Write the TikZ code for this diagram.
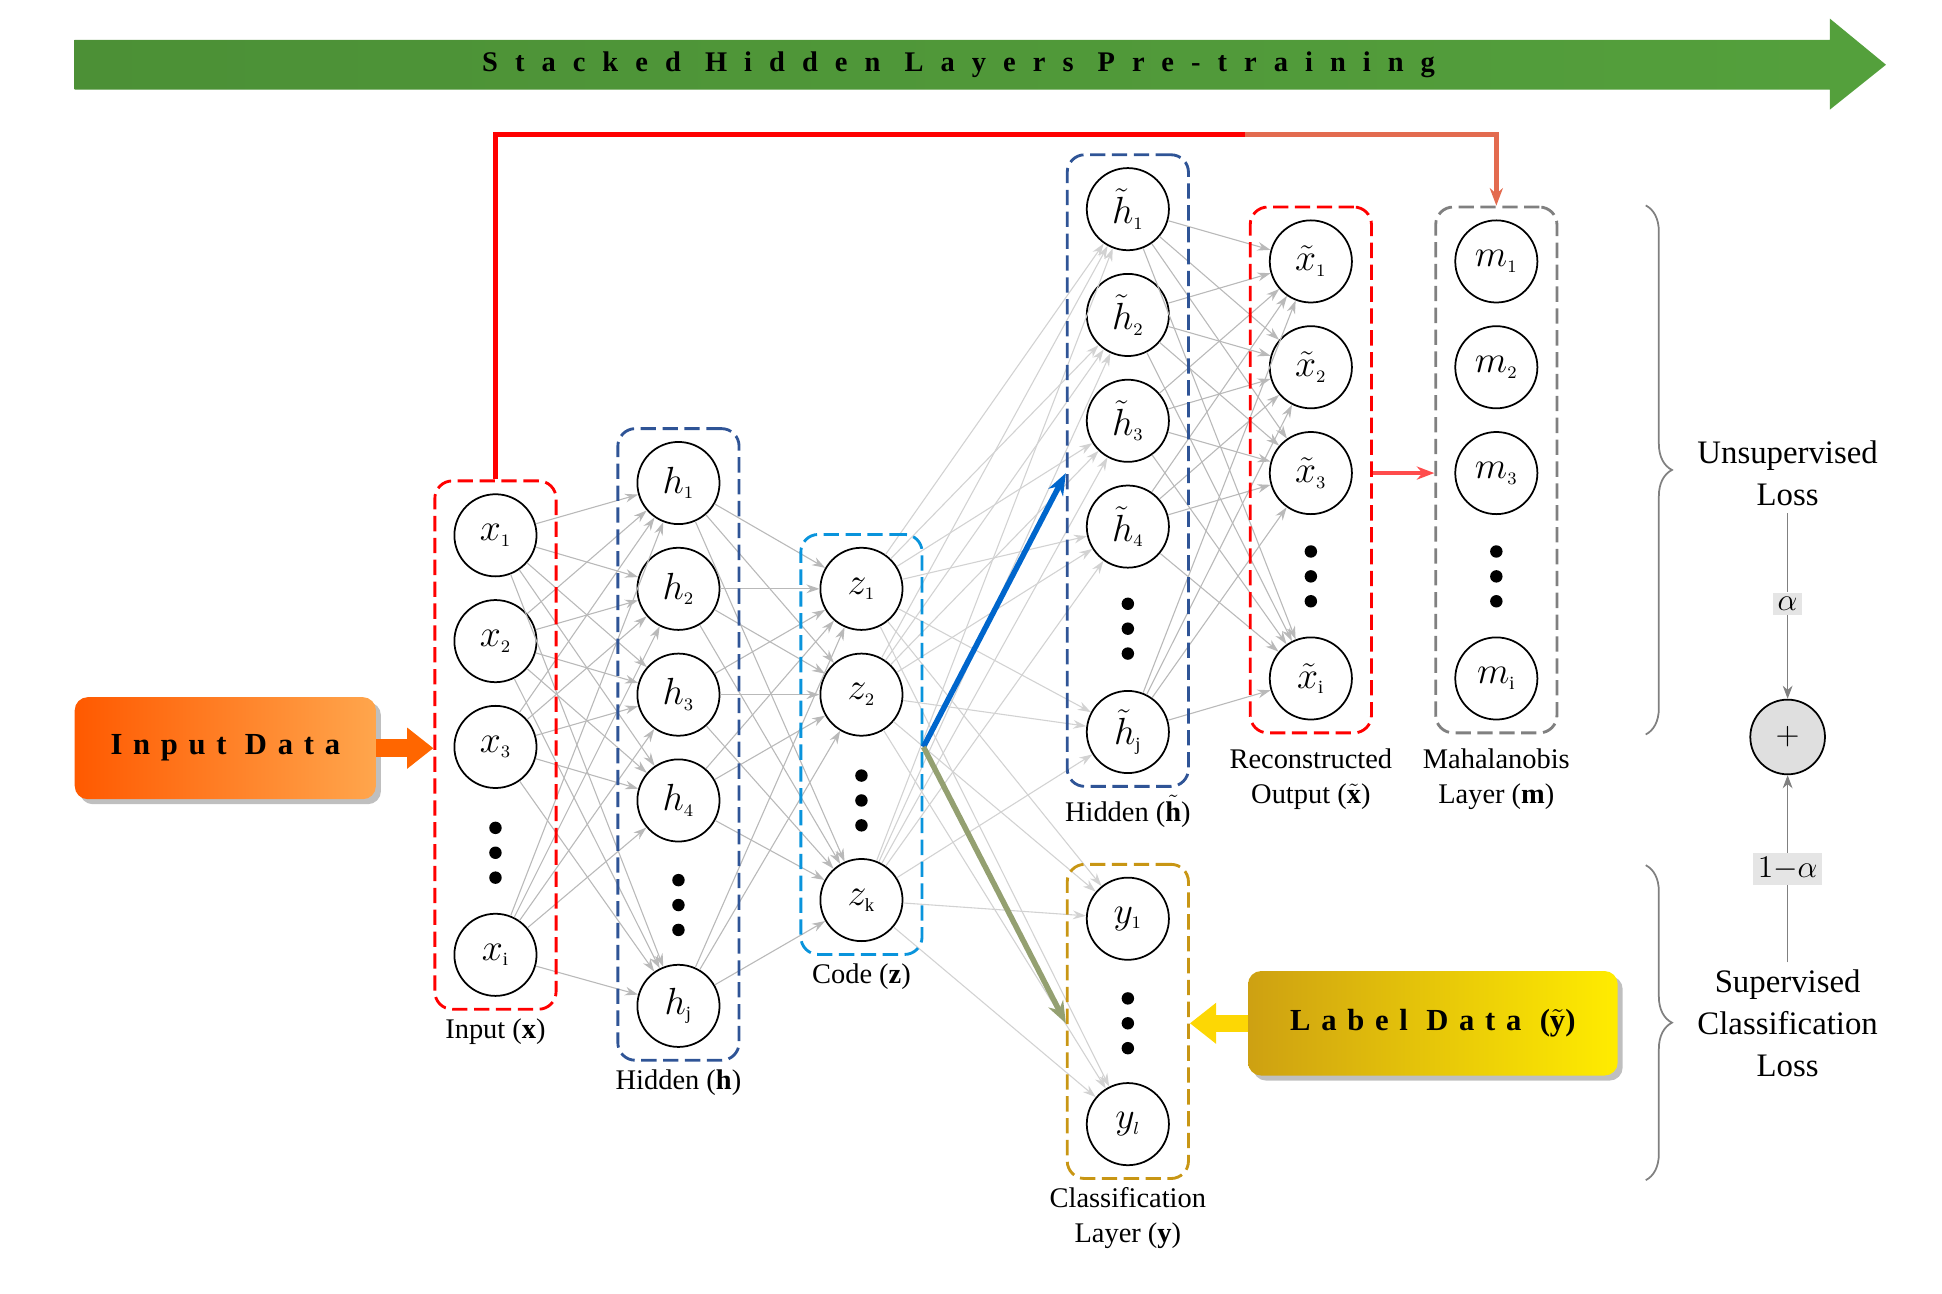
\documentclass[tikz,border=0pt]{standalone}
\usepackage{amsmath}
\usepackage{fontspec}
\setmainfont{Liberation Serif}
\usetikzlibrary{positioning, arrows.meta, fit, shadows, decorations.pathreplacing}

\definecolor{boxblue}{RGB}{47,84,150}
\definecolor{boxgold}{RGB}{200,150,20}
\definecolor{bannergreen}{RGB}{84,160,60}

\tikzset{
  neuron/.style={circle,draw,thick,minimum size=1.32cm,inner sep=0pt,font=\fontsize{17}{17}\selectfont,fill=white},
  conn/.style={-{Stealth[length=6pt,width=4pt]},gray!55,line width=0.5pt},
  layerbox/.style={draw,dash pattern=on 7pt off 3pt,line width=1.3pt,rounded corners=8pt,inner xsep=0.3cm,inner ysep=0.2cm},
  lbl/.style={font=\fontsize{13}{16}\selectfont,align=center},
  databox/.style={rounded corners=6pt,drop shadow,text=black,font=\fontsize{14}{14}\bfseries\addfontfeature{LetterSpace=35}\selectfont},
}
\newcommand{\dotcol}[2]{\foreach \dd in {-20,0,20} \fill (#1,#2+\dd) circle (0.1cm);}

\begin{document}
\begin{tikzpicture}[x=0.02cm,y=-0.02cm]
        \useasboundingbox (0,0) rectangle (1560,1039);
        % banner
        \shade[left color=bannergreen!90!black,right color=bannergreen]
          (60,32) -- (1470,32) -- (1470,15) -- (1515,52) -- (1470,88) -- (1470,72) -- (60,72) -- cycle;
        \node[font=\fontsize{13}{13}\bfseries\addfontfeature{LetterSpace=60}\selectfont] (banner) at (770,52) {Stacked Hidden Layers Pre-training};
        % layers
        \node[neuron](x1) at (398,430){$x_{\scriptscriptstyle 1}$};
        \node[neuron](x2) at (398,515){$x_{\scriptscriptstyle 2}$};
        \node[neuron](x3) at (398,600){$x_{\scriptscriptstyle 3}$};
        \node[neuron](xi) at (398,767){$x_{\scriptscriptstyle \mathrm{i}}$};
        \dotcol{398}{685}
        \node[neuron](h1) at (545,388){$h_{\scriptscriptstyle 1}$};
        \node[neuron](h2) at (545,473){$h_{\scriptscriptstyle 2}$};
        \node[neuron](h3) at (545,558){$h_{\scriptscriptstyle 3}$};
        \node[neuron](h4) at (545,643){$h_{\scriptscriptstyle 4}$};
        \node[neuron](hj) at (545,808){$h_{\scriptscriptstyle \mathrm{j}}$};
        \dotcol{545}{727}
        \node[neuron](z1) at (692,473){$z_{\scriptscriptstyle 1}$};
        \node[neuron](z2) at (692,558){$z_{\scriptscriptstyle 2}$};
        \node[neuron](zk) at (692,723){$z_{\scriptscriptstyle \mathrm{k}}$};
        \dotcol{692}{643}
        \node[neuron](t1) at (906,168){$\tilde h_{\scriptscriptstyle 1}$};
        \node[neuron](t2) at (906,253){$\tilde h_{\scriptscriptstyle 2}$};
        \node[neuron](t3) at (906,338){$\tilde h_{\scriptscriptstyle 3}$};
        \node[neuron](t4) at (906,423){$\tilde h_{\scriptscriptstyle 4}$};
        \node[neuron](tj) at (906,588){$\tilde h_{\scriptscriptstyle \mathrm{j}}$};
        \dotcol{906}{505}
        \node[neuron](r1) at (1053,210){$\tilde x_{\scriptscriptstyle 1}$};
        \node[neuron](r2) at (1053,295){$\tilde x_{\scriptscriptstyle 2}$};
        \node[neuron](r3) at (1053,380){$\tilde x_{\scriptscriptstyle 3}$};
        \node[neuron](ri) at (1053,545){$\tilde x_{\scriptscriptstyle \mathrm{i}}$};
        \dotcol{1053}{463}
        \node[neuron](m1) at (1202,210){$m_{\scriptscriptstyle 1}$};
        \node[neuron](m2) at (1202,295){$m_{\scriptscriptstyle 2}$};
        \node[neuron](m3) at (1202,380){$m_{\scriptscriptstyle 3}$};
        \node[neuron](mi) at (1202,545){$m_{\scriptscriptstyle \mathrm{i}}$};
        \dotcol{1202}{463}
        \node[neuron](y1) at (906,738){$y_{\scriptscriptstyle 1}$};
        \node[neuron](yl) at (906,903){$y_{\scriptscriptstyle l}$};
        \dotcol{906}{822}
        % connections
        \foreach \a in {x1,x2,x3,xi} \foreach \b in {h1,h2,h3,h4,hj} \draw[conn] (\a) -- (\b);
        \foreach \a in {h1,h2,h3,h4,hj} \foreach \b in {z1,z2,zk} \draw[conn] (\a) -- (\b);
        \foreach \a in {z1,z2,zk} \foreach \b in {t1,t2,t3,t4,tj,y1,yl} \draw[conn,gray!35] (\a) -- (\b);
        \foreach \a in {t1,t2,t3,t4,tj} \foreach \b in {r1,r2,r3,ri} \draw[conn] (\a) -- (\b);
        % boxes
        \node[layerbox,red,fit=(x1)(xi)](xbox){};
        \node[layerbox,boxblue,fit=(h1)(hj)](hbox){};
        \node[layerbox,cyan!80!blue,fit=(z1)(zk)](zbox){};
        \node[layerbox,boxblue,fit=(t1)(tj)](tbox){};
        \node[layerbox,red,fit=(r1)(ri)](rbox){};
        \node[layerbox,gray,fit=(m1)(mi)](mbox){};
        \node[layerbox,boxgold,fit=(y1)(yl)](ybox){};
        % labels
        \node[lbl,below=0pt of xbox](xl){Input ($\mathbf{x}$)};
        \node[lbl,below=0pt of hbox](hl){Hidden ($\mathbf{h}$)};
        \node[lbl,below=0pt of zbox](zl){Code ($\mathbf{z}$)};
        \node[lbl,below=0pt of tbox](tl){Hidden ($\tilde{\mathbf{h}}$)};
        \node[lbl,below=3pt of rbox](rl){Reconstructed\\Output ($\tilde{\mathbf{x}}$)};
        \node[lbl,below=3pt of mbox](ml){Mahalanobis\\Layer ($\mathbf{m}$)};
        \node[lbl,below=0pt of ybox](yll){Classification\\Layer ($\mathbf{y}$)};
        % data boxes
        \node[databox,left color=orange!70!red,right color=orange!70,minimum width=4.84cm,minimum height=1.64cm](indata) at (181,601){Input Data};
        \node[databox,left color=boxgold!90!yellow,right color=yellow!85!orange,minimum width=5.94cm,minimum height=1.68cm](labdata) at (1151,822){Label Data ($\tilde{\mathbf{y}}$)};
        \draw[-{Triangle[length=12pt,width=18pt]},line width=8pt,orange!80!red] (indata) -- (xbox.west |- indata);
        \draw[-{Triangle[length=12pt,width=18pt]},line width=8pt,yellow!75!orange] (labdata) -- (ybox.east |- labdata);
        % skip and flow arrows
        \draw[red,line width=2pt] (xbox.north) |- (1000,108);
        \draw[-{Stealth[length=8pt]},red!45!brown!80,line width=2pt] (1000,108) -| (mbox.north);
        \draw[-{Stealth[length=8pt]},red!70,line width=2pt] (rbox.east |- r3) -- (mbox.west |- r3);
        \coordinate (split) at (zbox.east |- 0,600);
        \draw[-{Stealth[length=10pt]},blue!50!cyan!80!black,line width=2.5pt] (split) -- (tbox.west |- 0,380);
        \draw[-{Stealth[length=10pt]},cyan!30!boxgold!90!black,line width=2.5pt] (split) -- (ybox.west |- 0,822);
        % losses
        \draw[decorate,decoration={brace,amplitude=12pt},gray,thick] (1322,165) -- (1322,590);
        \draw[decorate,decoration={brace,amplitude=12pt},gray,thick] (1322,695) -- (1322,948);
        \node[lbl,font=\fontsize{15}{19}\selectfont](ul) at (1436,380){Unsupervised\\Loss};
        \node[lbl,font=\fontsize{15}{19}\selectfont](sl) at (1436,822){Supervised\\Classification\\Loss};
        \node[circle,draw,thick,fill=gray!25,minimum size=1.2cm,font=\Large](plus) at (1436,592){$+$};
        \node[fill=gray!20,inner sep=2pt,font=\fontsize{14}{14}\selectfont](al) at (1436,485){$\alpha$};
        \node[fill=gray!20,inner sep=2pt,font=\fontsize{14}{14}\selectfont](oma) at (1436,698){$1{-}\alpha$};
        \draw[gray] (ul) -- (al);
        \draw[gray,-{Stealth[length=6pt]}] (al) -- (plus);
        \draw[gray] (sl) -- (oma);
        \draw[gray,-{Stealth[length=6pt]}] (oma) -- (plus);
    \end{tikzpicture}
\end{document}
